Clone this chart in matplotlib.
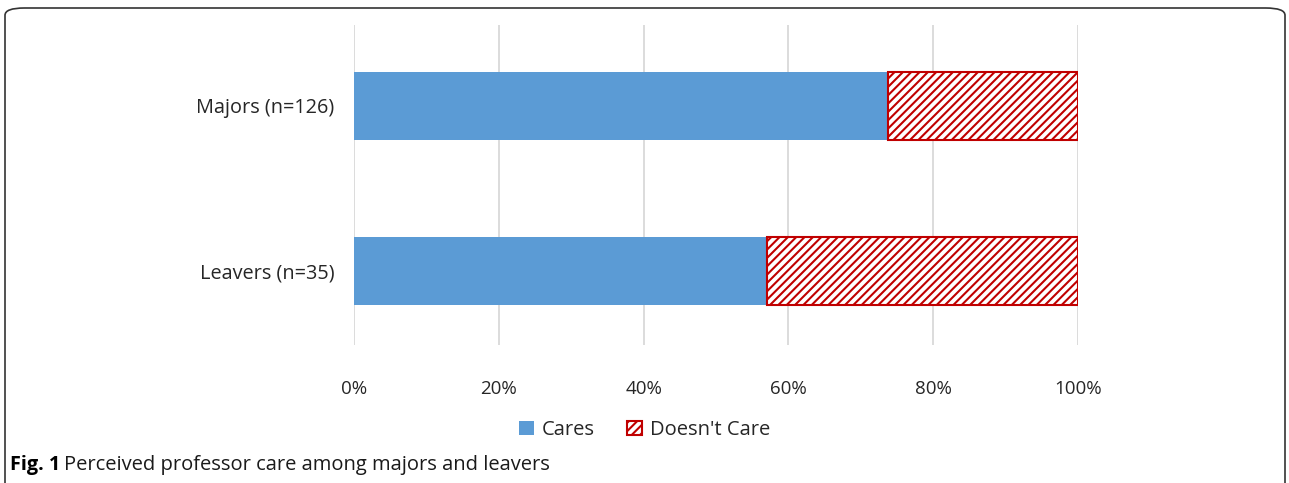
import matplotlib
matplotlib.use('Agg')
import matplotlib.pyplot as plt
from matplotlib.patches import FancyBboxPatch

plt.rcParams['font.family'] = ['Open Sans', 'DejaVu Sans']
plt.rcParams['hatch.linewidth'] = 1.5

groups = ['Leavers (n=35)', 'Majors (n=126)']
cares = [57.1, 73.8]
doesnt = [42.9, 26.2]
ticks = [0, 20, 40, 60, 80, 100]
tick_labels = ['0%', '20%', '40%', '60%', '80%', '100%']

blue = '#5b9bd5'
red = '#c00000'

fig = plt.figure(figsize=(12.89, 4.83), dpi=100)
ax = fig.add_axes([354/1289, 1-345/483, 724/1289, 320/483])

ypos = range(len(groups))
ax.barh(ypos, cares, height=0.41, color=blue, label='Cares')
ax.barh(ypos, doesnt, left=cares, height=0.41, color='white', edgecolor=red,
        hatch='////', linewidth=1.5, label="Doesn't Care")

ax.set_xlim(0, 100)
ax.set_ylim(-0.45, 1.49)
ax.set_xticks(ticks)
ax.set_xticklabels(tick_labels, fontsize=13.5, color='#262626')
ax.set_yticks(list(ypos))
ax.set_yticklabels(groups, fontsize=14.3, color='#262626')
ax.tick_params(length=0)
ax.tick_params(axis='x', pad=25)
ax.tick_params(axis='y', pad=14)
ax.grid(axis='x', color='#d9d9d9', linewidth=1.3)
ax.set_axisbelow(True)
for s in ax.spines.values():
    s.set_visible(False)

leg = fig.legend(loc='center', bbox_to_anchor=(0.5, 1-430/483), ncol=2, frameon=False,
                 fontsize=14.5, handlelength=0.75, handleheight=0.75, columnspacing=1.6,
                 handletextpad=0.4, labelcolor='#262626')

fig.text(10/1289, 1-465/483, 'Fig. 1', fontsize=14.3, fontweight='bold', va='center')
fig.text(64/1289, 1-465/483, 'Perceived professor care among majors and leavers',
         fontsize=14.5, va='center', color='#1a1a1a')

frame = FancyBboxPatch((5/1289, -0.05), 1280/1289, 1.05 - 8/483,
                       boxstyle='round,pad=0,rounding_size=0.015',
                       transform=fig.transFigure, fill=False, edgecolor='#333333',
                       linewidth=1.2)
fig.patches.append(frame)

fig.savefig('out.png', dpi=100)
